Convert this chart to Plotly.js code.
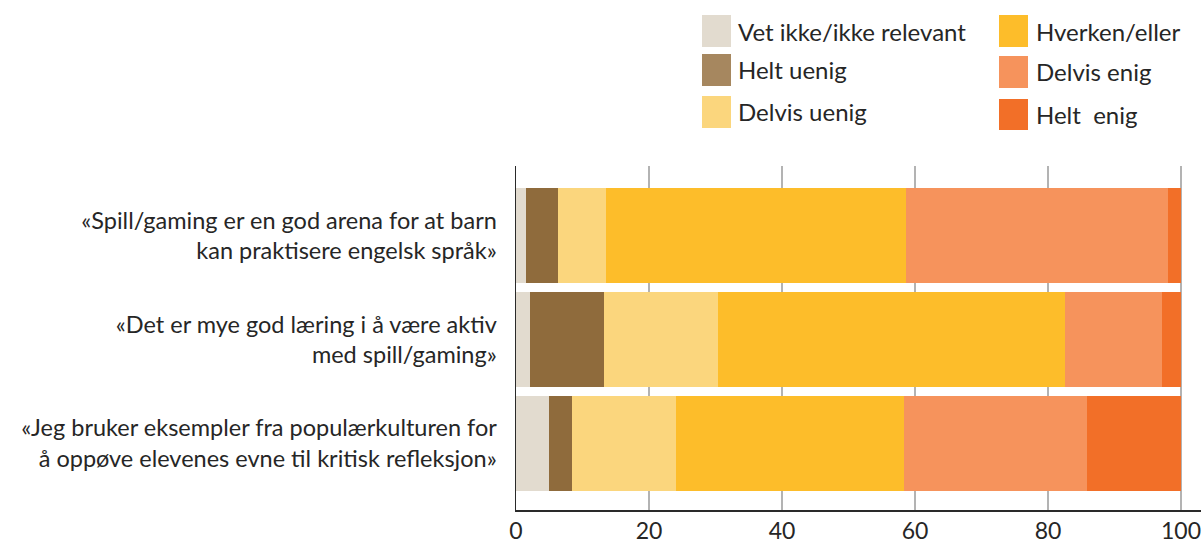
<!DOCTYPE html>
<html>
<head>
<meta charset="utf-8">
<script src="https://cdn.plot.ly/plotly-3.0.1.min.js"></script>
<style>
  html, body { margin: 0; padding: 0; background: #fff; }
  #chart { width: 1204px; height: 543px; }
</style>
</head>
<body>
<div id="chart"></div>
<script>
// Statements (top to bottom)
const statements = [
  "«Spill/gaming er en god arena for at barn<br>kan praktisere engelsk språk»",
  "«Det er mye god læring i å være aktiv<br>med spill/gaming»",
  "«Jeg bruker eksempler fra populærkulturen for<br>å oppøve elevenes evne til kritisk refleksjon»"
];

// Response categories in stacking order
const responseNames = [
  "Vet ikke/ikke relevant",
  "Helt uenig",
  "Delvis uenig",
  "Hverken/eller",
  "Delvis enig",
  "Helt\u00a0 enig"
];

// Share of respondents (%) per statement
const vetIkke     = [1.5, 2.1, 5.0];
const heltUenig   = [4.8, 11.1, 3.4];
const delvisUenig = [7.2, 17.2, 15.6];
const hverkenEller = [45.1, 52.2, 34.3];
const delvisEnig  = [39.4, 14.5, 27.5];
const heltEnig    = [2.0, 2.9, 14.2];

const seriesValues = [vetIkke, heltUenig, delvisUenig, hverkenEller, delvisEnig, heltEnig];

const barColors = ["#E2DBCF", "#8F6B3C", "#FBD67D", "#FDBD2A", "#F6935C", "#F26F28"];
const swatchColors = ["#E2DBCF", "#A6875F", "#FBD67D", "#FDBD2A", "#F6935C", "#F26F28"];

const xTicks = [0, 20, 40, 60, 80, 100];

const textColor = "#262626";
const fontFamily = "Lato, 'Noto Sans', sans-serif";

const traces = responseNames.map((name, i) => ({
  type: "bar",
  orientation: "h",
  name: name,
  y: statements,
  x: seriesValues[i],
  marker: { color: barColors[i], line: { width: 0 } },
  hoverinfo: "x+name",
  showlegend: false
}));

// Legend drawn as two columns of swatches with labels
const shapes = [];
const annotations = [];
const legendCols = [
  { x0: 702, x1: 731, tx: 736, rows: [[15, 47], [54, 86], [96, 128]] },
  { x0: 999, x1: 1028, tx: 1034, rows: [[15, 47], [56, 88], [99, 130]] }
];
const W = 1204, H = 543;
const plotL = 516, plotR = 1201, plotT = 166, plotB = 510;
responseNames.forEach((name, i) => {
  const col = legendCols[Math.floor(i / 3)];
  const r = col.rows[i % 3];
  shapes.push({
    type: "rect", xref: "paper", yref: "paper",
    x0: (col.x0 - plotL) / (plotR - plotL), x1: (col.x1 - plotL) / (plotR - plotL),
    y0: (plotB - r[1]) / (plotB - plotT), y1: (plotB - r[0]) / (plotB - plotT),
    fillcolor: swatchColors[i], line: { width: 0 }
  });
  annotations.push({
    xref: "paper", yref: "paper",
    x: (col.tx - plotL) / (plotR - plotL),
    y: (plotB - (r[0] + r[1]) / 2) / (plotB - plotT),
    xanchor: "left", yanchor: "middle",
    text: name, showarrow: false,
    font: { family: fontFamily, size: 24, color: textColor }
  });
});

const layout = {
  width: W,
  height: H,
  barmode: "stack",
  bargap: 0.09,
  paper_bgcolor: "#ffffff",
  plot_bgcolor: "#ffffff",
  margin: { l: plotL, r: W - plotR, t: plotT, b: H - plotB, pad: 0 },
  font: { family: fontFamily, color: textColor },
  showlegend: false,
  xaxis: {
    range: [0, 103],
    tickvals: xTicks,
    ticktext: xTicks.map(String),
    showgrid: true,
    gridcolor: "#B3B3B3",
    gridwidth: 1.5,
    zeroline: false,
    showline: true,
    linecolor: "#2a2a2a",
    linewidth: 1.5,
    ticks: "",
    ticklabelstandoff: 0,
    tickfont: { family: fontFamily, size: 23, color: textColor },
    fixedrange: true
  },
  yaxis: {
    type: "category",
    range: [2.64, -0.67],
    showgrid: false,
    zeroline: false,
    showline: true,
    linecolor: "#2a2a2a",
    linewidth: 1.5,
    ticks: "",
    ticklabelstandoff: 13,
    tickfont: { family: fontFamily, size: 23.5, color: textColor },
    fixedrange: true
  },
  shapes: shapes,
  annotations: annotations
};

Plotly.newPlot("chart", traces, layout, { displayModeBar: false, staticPlot: true });
</script>
</body>
</html>
